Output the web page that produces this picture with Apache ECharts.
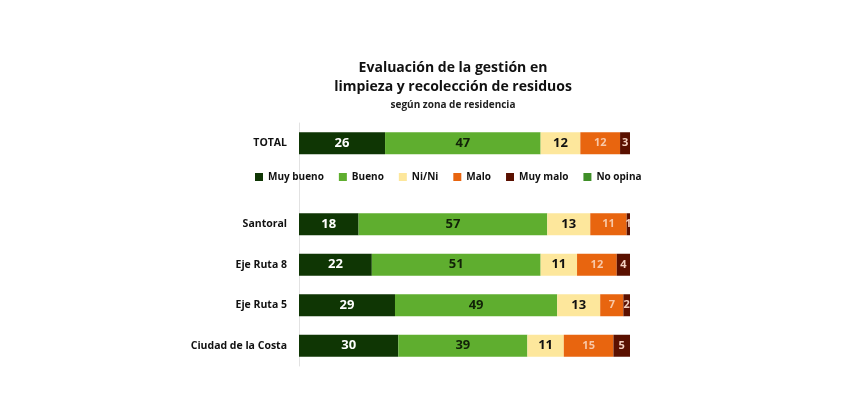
<!DOCTYPE html>
<html>
<head>
<meta charset="utf-8">
<script src="https://cdn.jsdelivr.net/npm/echarts@6/dist/echarts.min.js"></script>
<style>
  html, body { margin: 0; padding: 0; background: #fff; }
  #chart { width: 845px; height: 398px; }
</style>
</head>
<body>
<div id="chart"></div>
<script>
const categories = ['TOTAL', '', 'Santoral', 'Eje Ruta 8', 'Eje Ruta 5', 'Ciudad de la Costa']
const muyBueno = [26, null, 18, 22, 29, 30]
const bueno = [47, null, 57, 51, 49, 39]
const niNi = [12, null, 13, 11, 13, 11]
const malo = [12, null, 11, 12, 7, 15]
const muyMalo = [3, null, 1, 4, 2, 5]
const noOpina = [0, null, 0, 0, 0, 0]

const font = 'Open Sans, Lato, sans-serif'

function makeSeries(name, data, color, labelColor, labelSize) {
  return {
    name: name,
    type: 'bar',
    stack: 'total',
    data: data,
    barWidth: 22,
    itemStyle: { color: color },
    label: {
      show: true,
      position: 'inside',
      color: labelColor,
      fontFamily: font,
      fontWeight: 'bold',
      fontSize: labelSize,
      formatter: p => (p.value > 0 ? p.value : '')
    },
    emphasis: { disabled: true }
  }
}

const chart = echarts.init(document.getElementById('chart'))
chart.setOption({
  animation: false,
  title: [
    {
      text: 'Evaluación de la gestión en\nlimpieza y recolección de residuos',
      left: 448,
      top: 54,
      textAlign: 'center',
      textStyle: { fontFamily: font, fontWeight: 'bold', fontSize: 14, lineHeight: 19, color: '#111' }
    },
    {
      text: 'según zona de residencia',
      left: 448,
      top: 95,
      textAlign: 'center',
      textStyle: { fontFamily: font, fontWeight: 'bold', fontSize: 10, color: '#222' }
    }
  ],
  legend: {
    top: 167,
    left: 250,
    itemWidth: 8,
    itemHeight: 8,
    itemGap: 15,
    icon: 'rect',
    textStyle: { fontFamily: font, fontWeight: 'bold', fontSize: 10, color: '#111' },
    data: ['Muy bueno', 'Bueno', 'Ni/Ni', 'Malo', 'Muy malo', 'No opina']
  },
  grid: {
    left: 299,
    right: 215,
    top: 123,
    bottom: 32
  },
  xAxis: {
    type: 'value',
    min: 0,
    max: 100,
    show: false
  },
  yAxis: {
    type: 'category',
    inverse: true,
    data: categories,
    axisLine: { show: true, lineStyle: { color: '#e2e2e2', width: 1 } },
    axisTick: { show: false },
    axisLabel: {
      color: '#111',
      fontFamily: font,
      fontWeight: 'bold',
      fontSize: 10.5,
      margin: 12
    }
  },
  series: [
    makeSeries('Muy bueno', muyBueno, '#0f3604', '#ffffff', 13),
    makeSeries('Bueno', bueno, '#5fae2f', '#112208', 13),
    makeSeries('Ni/Ni', niNi, '#fde79c', '#111111', 13),
    makeSeries('Malo', malo, '#e8650f', '#f8c8a8', 11),
    makeSeries('Muy malo', muyMalo, '#5a1000', '#f3d0c0', 11),
    makeSeries('No opina', noOpina, '#3f8f28', '#ffffff', 11)
  ]
})
</script>
</body>
</html>
